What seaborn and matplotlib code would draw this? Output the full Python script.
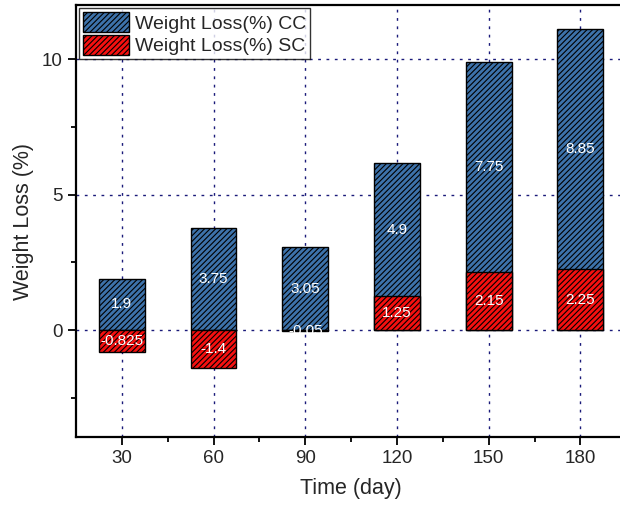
import matplotlib
matplotlib.use("Agg")
import matplotlib.pyplot as plt
import seaborn as sns
import numpy as np
import pandas as pd
from matplotlib.patches import Patch

days = [30, 60, 90, 120, 150, 180]
cc_values = [1.9, 3.75, 3.05, 4.9, 7.75, 8.85]
sc_values = [-0.825, -1.4, -0.05, 1.25, 2.15, 2.25]
cc_label = "Weight Loss(%) CC"
sc_label = "Weight Loss(%) SC"

sns.set_theme(style="white")
plt.rcParams['font.family'] = ['Liberation Sans', 'DejaVu Sans']
plt.rcParams['hatch.linewidth'] = 0.8
plt.rcParams['hatch.color'] = '#1a1a1a'

blue = '#3d72aa'
red = '#f51010'

sc_pos = [max(s, 0) for s in sc_values]
cc_top = [c + b for c, b in zip(cc_values, sc_pos)]
df = pd.DataFrame({"day": days, "cc_top": cc_top, "sc": sc_values})

fig = plt.figure(figsize=(6.2, 5.05), dpi=100)
ax = fig.add_axes([0.1226, 0.1347, 0.8774 + 0.01, 0.8553])

sns.barplot(data=df, x="day", y="cc_top", native_scale=True, width=0.5,
            color=blue, saturation=1, edgecolor='black', linewidth=1.0,
            ax=ax, zorder=3)
sns.barplot(data=df, x="day", y="sc", native_scale=True, width=0.5,
            color=red, saturation=1, edgecolor='black', linewidth=1.0,
            ax=ax, zorder=3)
for p in ax.patches:
    p.set_hatch('//////')
    p.set_zorder(3)

# value labels
for d, c, b in zip(days, cc_values, sc_pos):
    ax.text(d, b + c / 2, f"{c:g}", color='white', ha='center', va='center',
            fontsize=11, zorder=5)
for d, s in zip(days, sc_values):
    ax.text(d, s / 2, f"{s:g}", color='white', ha='center', va='center',
            fontsize=11, zorder=5)

ax.set_xlim(15, 195)
ax.set_ylim(-3.95, 12.0)
ax.set_xticks(days)
ax.set_xticks([45, 75, 105, 135, 165, 195], minor=True)
ax.set_yticks([0, 5, 10])
ax.set_yticks([-2.5, 2.5, 7.5], minor=True)
ax.tick_params(axis='both', which='major', direction='out', length=6, width=1.3,
               labelsize=13.5, bottom=True, left=True, color='black')
ax.tick_params(axis='both', which='minor', direction='out', length=3.5, width=1.3,
               bottom=True, left=True, color='black')
ax.grid(True, which='major', color='#1a1a7a', linestyle=(0, (2, 4)), linewidth=1.0, zorder=0)
ax.set_axisbelow(True)
for sp in ax.spines.values():
    sp.set_color('black')
    sp.set_linewidth(1.6)

ax.set_xlabel("Time (day)", fontsize=15.5, labelpad=8)
ax.set_ylabel("Weight Loss (%)", fontsize=15.5, labelpad=6)

handles = [Patch(facecolor=blue, edgecolor='black', hatch='//////', label=cc_label),
           Patch(facecolor=red, edgecolor='black', hatch='//////', label=sc_label)]
leg = ax.legend(handles=handles, loc='upper left', fontsize=14, frameon=True,
                fancybox=False, edgecolor='black', borderaxespad=0.15,
                handlelength=2.4, handleheight=1.25, handletextpad=0.3,
                borderpad=0.2, labelspacing=0.1)
leg.get_frame().set_linewidth(1.0)

fig.savefig("out.png", dpi=100)
